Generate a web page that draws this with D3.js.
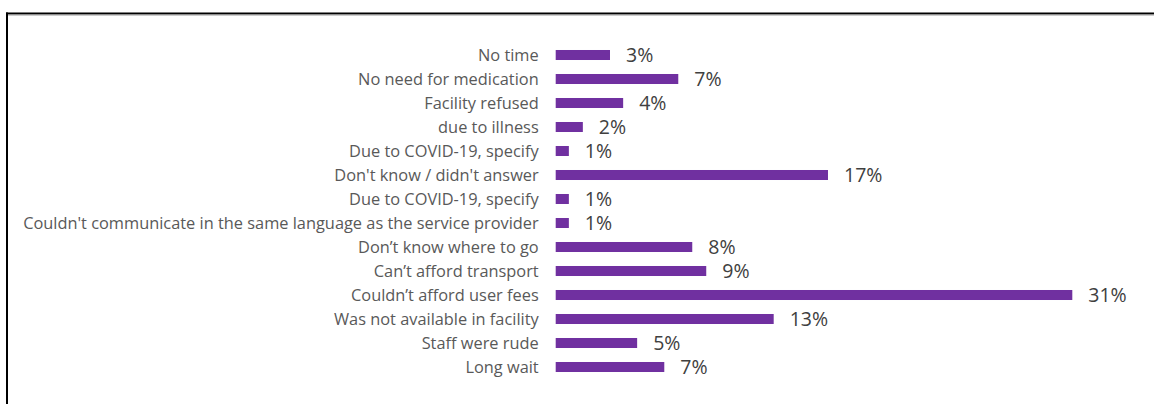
<!DOCTYPE html>
<html><head><meta charset="utf-8">
<script src="https://cdn.jsdelivr.net/npm/d3@7"></script>
<style>
html,body{margin:0;padding:0;background:#fff;overflow:hidden}
svg{display:block}
</style></head><body>
<svg id="chart" width="1154" height="404"></svg>
<script>
const categories = [
  "No time",
  "No need for medication",
  "Facility refused ",
  "due to illness",
  "Due to COVID-19, specify",
  "Don't know / didn't answer",
  "Due to COVID-19, specify",
  "Couldn't communicate in the same language as the service provider",
  "Don\u2019t know where to go",
  "Can\u2019t afford transport",
  "Couldn\u2019t afford user fees",
  "Was not available in facility",
  "Staff were rude",
  "Long wait"
];
const values = [3.3, 7.45, 4.1, 1.65, 0.8, 16.55, 0.8, 0.8, 8.3, 9.15, 31.4, 13.25, 4.95, 6.6];

const svg = d3.select("#chart");
const W = 1154, H = 404;
const barLeft = 555.7;

// frame (clipped by the window on right and bottom)
svg.append("line").attr("x1", 7).attr("x2", 7).attr("y1", 12.5).attr("y2", H)
  .attr("stroke", "#000").attr("stroke-width", 2);
svg.append("line").attr("x1", 6).attr("x2", W).attr("y1", 13.5).attr("y2", 13.5)
  .attr("stroke", "#000").attr("stroke-width", 2);
svg.append("line").attr("x1", 8).attr("x2", W).attr("y1", 15).attr("y2", 15)
  .attr("stroke", "#9a9a9a").attr("stroke-width", 1);

const idx = categories.map((d, i) => i);
const y = d3.scaleBand().domain(idx).range([43, 379]).paddingInner(0.583).paddingOuter(0.2915);
const x = d3.scaleLinear().domain([0, 31.4]).range([barLeft, barLeft + 516.6]);

const yAxis = d3.axisLeft(y).tickSize(0).tickPadding(17).tickFormat(i => categories[i]);
const gy = svg.append("g").attr("transform", `translate(${barLeft},0)`).call(yAxis);
gy.select(".domain").remove();
const catFont = "'Open Sans', sans-serif";
const labels = gy.selectAll("text")
  .attr("font-family", catFont)
  .attr("font-size", 15)
  .attr("fill", "#595959")
  .attr("dy", "0.35em");
// fit the label font so the longest label spans the same width as in the reference
let maxW = 0;
labels.each(function () { maxW = Math.max(maxW, this.getComputedTextLength()); });
const fs = 15 * 516 / maxW;
labels.attr("font-size", fs);

svg.append("g").selectAll("rect").data(values).join("rect")
  .attr("x", x(0))
  .attr("y", (d, i) => y(i))
  .attr("width", d => x(d) - x(0))
  .attr("height", y.bandwidth())
  .attr("fill", "#7030a0");

const fmt = d => d3.format(".0f")(d) + "%";
svg.append("g").selectAll("text").data(values).join("text")
  .attr("x", d => x(d) + 16)
  .attr("y", (d, i) => y(i) + y.bandwidth() / 2)
  .attr("dy", "0.36em")
  .attr("font-family", catFont)
  .attr("font-size", 19.5)
  .attr("fill", "#404040")
  .text(fmt);
</script>
</body></html>
